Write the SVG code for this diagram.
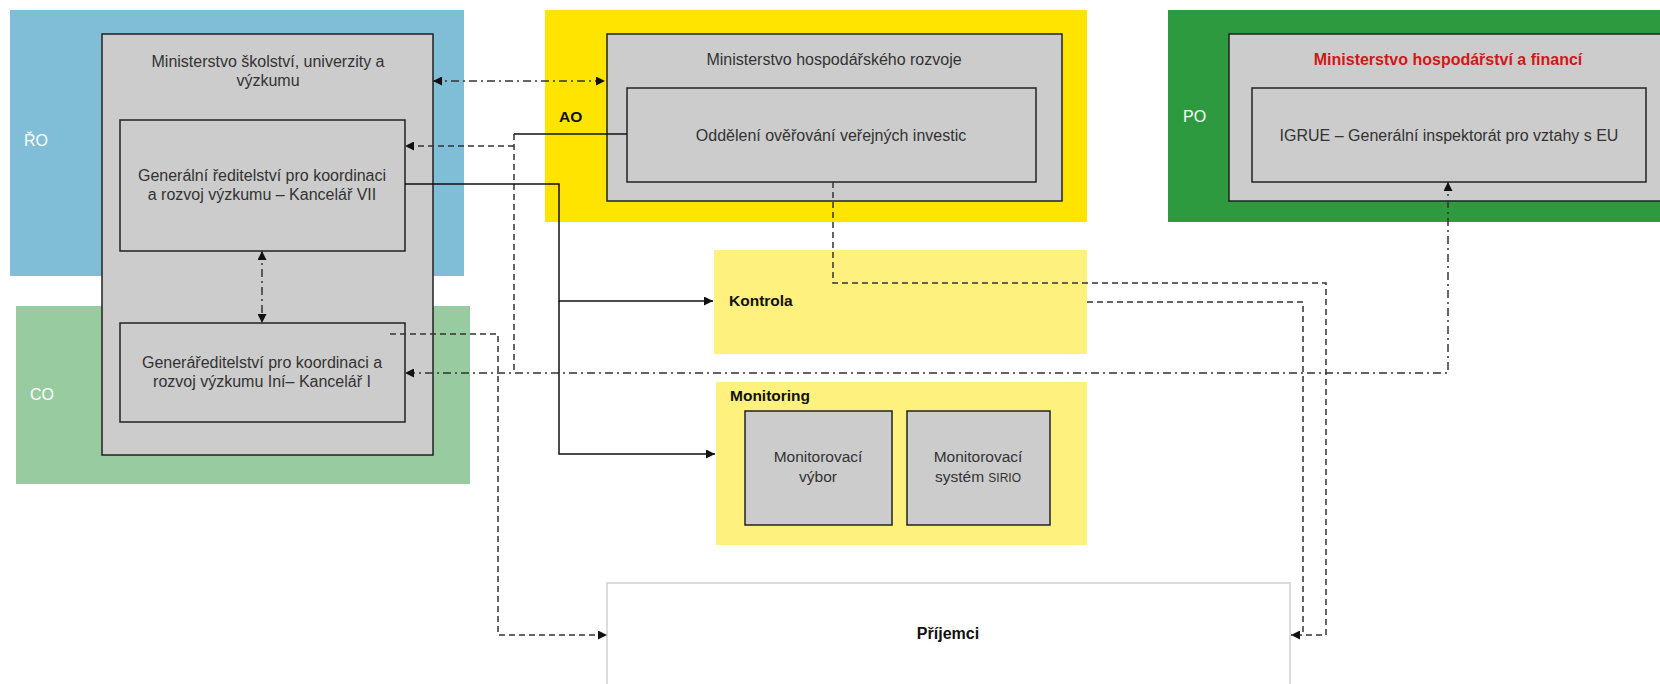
<svg xmlns="http://www.w3.org/2000/svg" width="1660" height="684" viewBox="0 0 1660 684">
<style>
.box{fill:#cccccc;stroke:#222;stroke-width:1.5}
.t{font-family:"Liberation Sans",Arial,sans-serif;font-size:16px;fill:#333;text-anchor:middle}
.m{font-size:15.5px}
.lbl{font-family:"Liberation Sans",Arial,sans-serif;font-size:16px;fill:#fff}
.b{font-family:"Liberation Sans",Arial,sans-serif;font-size:15.5px;font-weight:bold;fill:#111}
.solid{fill:none;stroke:#111;stroke-width:1.5}
.dash{fill:none;stroke:#333;stroke-width:1.5;stroke-dasharray:6 4}
.dd{fill:none;stroke:#333;stroke-width:1.5;stroke-dasharray:8 4 2 4}
</style>
<defs>
<marker id="ah" viewBox="0 0 10 10" refX="10" refY="5" markerWidth="9" markerHeight="9" markerUnits="userSpaceOnUse" orient="auto-start-reverse">
<path d="M0,0 L10,5 L0,10 z" fill="#111"/>
</marker>
</defs>
<rect width="1660" height="684" fill="#fff"/>

<g id="ro">
<rect x="10" y="10" width="454" height="266" fill="#80bed8"/>
<text class="lbl" x="24" y="146">ŘO</text>
</g>
<g id="co">
<rect x="16" y="306" width="454" height="178" fill="#98cb9f"/>
<text class="lbl" x="30" y="400">CO</text>
</g>
<g id="ao">
<rect x="545" y="10" width="542" height="212" fill="#ffe400"/>
<text class="b" x="559" y="122">AO</text>
</g>
<g id="po">
<rect x="1168" y="10" width="492" height="212" fill="#2e9a40"/>
<text class="lbl" x="1183" y="122">PO</text>
</g>

<g id="msuv">
<rect class="box" x="102" y="34" width="331" height="421"/>
<text class="t" x="268" y="67">Ministerstvo školství, univerzity a</text>
<text class="t" x="268" y="86">výzkumu</text>
</g>
<g id="gr7">
<rect class="box" x="120" y="120" width="285" height="131"/>
<text class="t" x="262" y="181">Generální ředitelství pro koordinaci</text>
<text class="t" x="262" y="200">a rozvoj výzkumu – Kancelář VII</text>
</g>
<g id="gr1">
<rect class="box" x="120" y="323" width="285" height="99"/>
<text class="t" x="262" y="368">Generáředitelství pro koordinaci a</text>
<text class="t" x="262" y="387">rozvoj výzkumu Iní– Kancelář I</text>
</g>

<g id="mhr">
<rect class="box" x="607" y="34" width="455" height="167"/>
<text class="t" x="834" y="65">Ministerstvo hospodářského rozvoje</text>
</g>
<g id="odd">
<rect class="box" x="627" y="88" width="409" height="94"/>
<text class="t" x="831" y="141">Oddělení ověřování veřejných investic</text>
</g>

<g id="mhf">
<rect class="box" x="1229" y="34" width="440" height="167"/>
<text class="b" x="1448" y="65" text-anchor="middle" style="fill:#d01818;font-size:16px">Ministerstvo hospodářství a financí</text>
</g>
<g id="igrue">
<rect class="box" x="1252" y="88" width="394" height="94"/>
<text class="t" x="1449" y="141">IGRUE – Generální inspektorát pro vztahy s EU</text>
</g>

<g id="kontrola">
<rect x="714" y="250" width="373" height="104" fill="#fff17d"/>
<text class="b" x="729" y="306">Kontrola</text>
</g>
<g id="monitoring">
<rect x="716" y="382" width="371" height="163" fill="#fff17d"/>
<text class="b" x="730" y="401">Monitoring</text>
</g>
<g id="mv">
<rect class="box" x="745" y="411" width="147" height="114"/>
<text class="t m" x="818" y="462">Monitorovací</text>
<text class="t m" x="818" y="482">výbor</text>
</g>
<g id="ms">
<rect class="box" x="907" y="411" width="143" height="114"/>
<text class="t m" x="978" y="462">Monitorovací</text>
<text class="t m" x="978" y="482">systém <tspan style="font-size:12px">SIRIO</tspan></text>
</g>

<g id="prijemci">
<rect x="607" y="583" width="683" height="110" fill="#fff" stroke="#cfcfcf" stroke-width="1.5"/>
<text class="b" x="948" y="639" text-anchor="middle" style="font-size:16px">Příjemci</text>
</g>

<g id="connectors">
<path class="dd" d="M433,81 H605" marker-start="url(#ah)" marker-end="url(#ah)"/>
<path class="dd" d="M262,251 V323" marker-start="url(#ah)" marker-end="url(#ah)"/>
<path class="solid" d="M627,134 H514"/>
<path class="dash" d="M514,134 V373"/>
<path class="dash" d="M514,146 H405" marker-end="url(#ah)"/>
<path class="dd" d="M1448,182 V373 H405" marker-start="url(#ah)" marker-end="url(#ah)"/>
<path class="solid" d="M405,184 H559 V301 H713" marker-end="url(#ah)"/>
<path class="solid" d="M559,301 V454 H715" marker-end="url(#ah)"/>
<path class="dash" d="M390,334 H498 V635 H607" marker-end="url(#ah)"/>
<path class="dash" d="M833,182 V283 H1326 V635 H1291" marker-end="url(#ah)"/>
<path class="dash" d="M1087,302 H1303 V635"/>
</g>
</svg>
